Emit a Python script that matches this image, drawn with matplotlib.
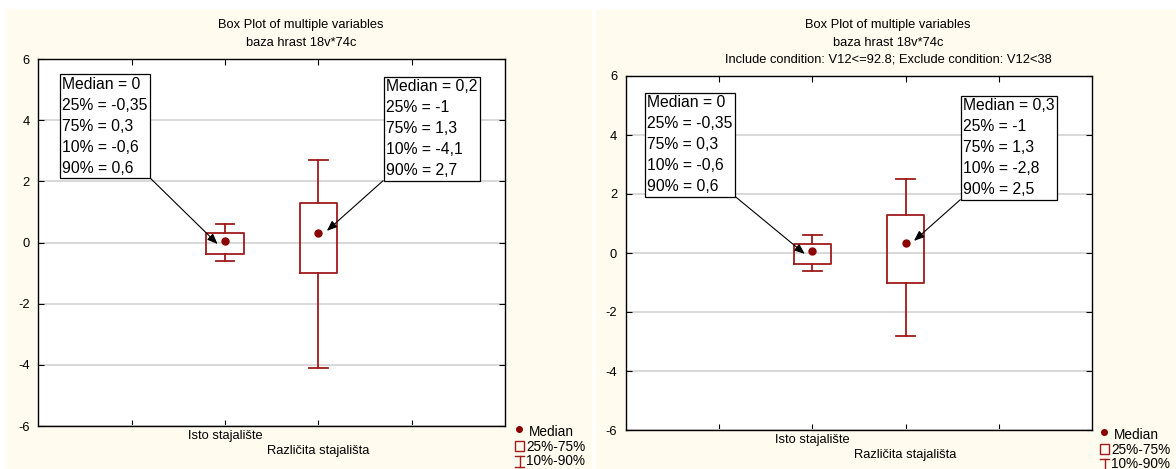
import matplotlib
matplotlib.use("Agg")
import matplotlib.pyplot as plt
from matplotlib.patches import Rectangle
from matplotlib.lines import Line2D

plt.rcParams["font.family"] = ["Liberation Sans", "DejaVu Sans"]

W, H = 1176, 469

# ---------------- data ----------------
categories = ["Isto stajalište", "Različita stajališta"]
positions = [2, 3]
tick_positions = [1, 2, 3, 4]
y_ticks = [-6, -4, -2, 0, 2, 4, 6]

titles_left = ["Box Plot of multiple variables", "baza hrast 18v*74c"]
titles_right = ["Box Plot of multiple variables", "baza hrast 18v*74c",
                "Include condition: V12<=92.8; Exclude condition: V12<38"]

# left panel: plotted statistics
left_median = [0.05, 0.32]
left_q1 = [-0.36, -1.0]
left_q3 = [0.3, 1.3]
left_p10 = [-0.6, -4.1]
left_p90 = [0.6, 2.7]
# left panel: annotated values
left_lab_median = [0, 0.2]
left_lab_q1 = [-0.35, -1]
left_lab_q3 = [0.3, 1.3]
left_lab_p10 = [-0.6, -4.1]
left_lab_p90 = [0.6, 2.7]

# right panel: plotted statistics
right_median = [0.07, 0.35]
right_q1 = [-0.37, -1.0]
right_q3 = [0.3, 1.3]
right_p10 = [-0.6, -2.8]
right_p90 = [0.6, 2.5]
# right panel: annotated values
right_lab_median = [0, 0.3]
right_lab_q1 = [-0.35, -1]
right_lab_q3 = [0.3, 1.3]
right_lab_p10 = [-0.6, -2.8]
right_lab_p90 = [0.6, 2.5]

legend_labels = ["Median", "25%-75%", "10%-90%"]

# ---------------- style ----------------
CREAM = "#FFFBEF"
RED = "#9E1B1B"
DOT = "#8B0000"
GRID = "#D8D8D8"
SMALL = 9.3
LEG = 9.8
ANN = 11.3


def fmt(v):
    return f"{v:g}".replace(".", ",")


def label_text(m, a, b, lo, hi):
    return (f"Median = {fmt(m)}\n25% = {fmt(a)}\n75% = {fmt(b)}\n"
            f"10% = {fmt(lo)}\n90% = {fmt(hi)}")


def fig_rect(x0, y0, x1, y1):
    return [x0 / W, 1 - y1 / H, (x1 - x0) / W, (y1 - y0) / H]


fig = plt.figure(figsize=(W / 100, H / 100), dpi=100)
fig.patch.set_facecolor("white")

bg = fig.add_axes([0, 0, 1, 1])
bg.set_xlim(0, W)
bg.set_ylim(H, 0)
bg.axis("off")
bg.set_zorder(0)

# cream panels
bg.add_patch(Rectangle((7, 9), 585, H - 9, fc=CREAM, ec="none"))
bg.add_patch(Rectangle((596, 9), W - 596, H - 9, fc=CREAM, ec="none"))


def draw_panel(rect, titles, title_cx, title_y0, med, q1, q3, p10, p90,
               labs, ann_boxes, legend_xy):
    ax = fig.add_axes(fig_rect(*rect))
    ax.set_zorder(1)
    ax.set_facecolor("white")
    stats = [dict(med=m, q1=a, q3=b, whislo=lo, whishi=hi, fliers=[])
             for m, a, b, lo, hi in zip(med, q1, q3, p10, p90)]
    lp = dict(color=RED, lw=1.3)
    ax.bxp(stats, positions=positions, widths=0.4, capwidths=0.2,
           showfliers=False, manage_ticks=False,
           boxprops=lp, whiskerprops=lp, capprops=lp,
           medianprops=dict(linestyle="none"))
    ax.plot(positions, med, "o", color=DOT, ms=5, zorder=5)

    ax.set_xlim(0, 5)
    ax.set_ylim(-6, 6)
    ax.set_yticks(y_ticks)
    ax.set_yticklabels([str(t) for t in y_ticks], fontsize=SMALL)
    ax.set_xticks(tick_positions)
    ax.set_xticklabels(["", categories[0], "\n" + categories[1], ""],
                       fontsize=SMALL)
    for t in ax.get_xticklabels():
        t.set_linespacing(1.3)
    ax.yaxis.grid(True, color=GRID, lw=1.4)
    ax.set_axisbelow(True)
    ax.tick_params(direction="in", top=True, right=True, length=4,
                   width=0.8, colors="black")
    ax.tick_params(axis="y", pad=6)
    ax.tick_params(axis="x", pad=3)
    for s in ax.spines.values():
        s.set_linewidth(1.0)
        s.set_color("black")

    # annotations
    x0, y0, x1, y1 = rect
    for i, (bx, by) in enumerate(ann_boxes):
        fx = (bx + 2.0 - x0) / (x1 - x0)
        fy = (y1 - (by + 2.5)) / (y1 - y0)
        if i == 0:
            tip = (positions[i] - 0.08, med[i] - 0.1)
            rel = (1, 0)
        else:
            tip = (positions[i] + 0.09, med[i] + 0.06)
            rel = (0, 0)
        txt = label_text(*(l[i] for l in labs))
        ax.annotate(txt, xy=tip, xycoords="data", xytext=(fx, fy),
                    textcoords="axes fraction", ha="left", va="top",
                    fontsize=ANN, linespacing=1.5, zorder=6,
                    bbox=dict(boxstyle="square,pad=0.15", fc="white",
                              ec="black", lw=0.9),
                    arrowprops=dict(arrowstyle="-|>,head_length=0.55,head_width=0.22",
                                    color="black", lw=0.8, shrinkA=0,
                                    shrinkB=0, relpos=rel))

    # titles
    for k, t in enumerate(titles):
        bg.text(title_cx, title_y0 + 17.5 * k, t, ha="center", va="center",
                fontsize=SMALL)

    # legend
    lx, ly = legend_xy
    bg.plot([lx + 2], [ly], "o", color=DOT, ms=4)
    bg.text(lx + 12, ly + 3, legend_labels[0], ha="left", va="center",
            fontsize=LEG)
    bg.add_patch(Rectangle((lx - 2, ly + 12), 9, 10, fc="none", ec=RED,
                           lw=1.0))
    bg.text(lx + 9, ly + 18, legend_labels[1], ha="left", va="center",
            fontsize=LEG)
    wx = lx + 2.5
    bg.add_line(Line2D([wx, wx], [ly + 27, ly + 38], color=RED, lw=1.0))
    bg.add_line(Line2D([wx - 4.5, wx + 4.5], [ly + 27, ly + 27], color=RED, lw=1.0))
    bg.add_line(Line2D([wx - 4.5, wx + 4.5], [ly + 38, ly + 38], color=RED, lw=1.0))
    bg.text(lx + 9, ly + 32, legend_labels[2], ha="left", va="center",
            fontsize=LEG)
    return ax


left_labs = [left_lab_median, left_lab_q1, left_lab_q3, left_lab_p10, left_lab_p90]
right_labs = [right_lab_median, right_lab_q1, right_lab_q3, right_lab_p10, right_lab_p90]

draw_panel((38.3, 59, 505.2, 426), titles_left, 301, 25,
           left_median, left_q1, left_q3, left_p10, left_p90,
           left_labs, [(60.5, 74.3), (383.9, 76.7)], (517, 429))
draw_panel((625.5, 76, 1092.3, 430), titles_right, 888, 25,
           right_median, right_q1, right_q3, right_p10, right_p90,
           right_labs, [(645, 92.7), (961.1, 95.7)], (1102, 432))

fig.savefig("out.png", dpi=100, facecolor="white")
